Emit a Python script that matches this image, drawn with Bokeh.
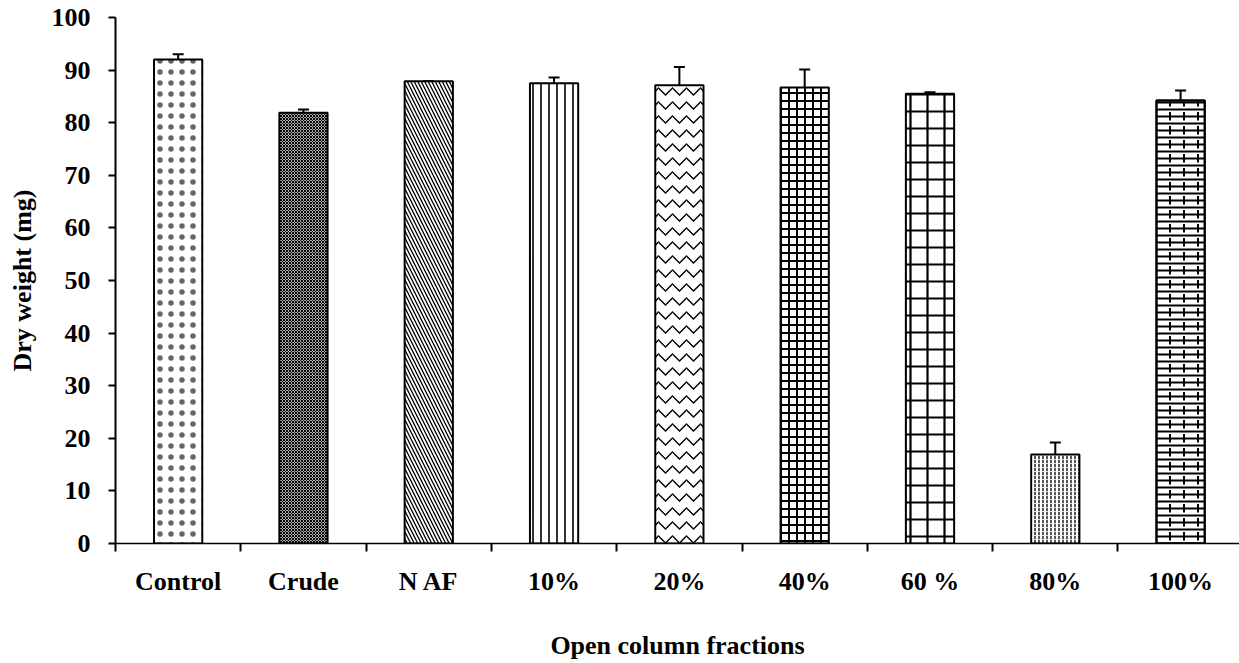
from bokeh.plotting import figure
from bokeh.models import FixedTicker, Whisker, ColumnDataSource, TeeHead, CDSView, IndexFilter
from bokeh.embed import file_html
from bokeh.resources import INLINE

categories = ["Control", "Crude", "N AF", "10%", "20%", "40%", "60 %", "80%", "100%"]
dry_weight = [92.0, 81.9, 87.9, 87.5, 87.1, 86.7, 85.5, 16.9, 84.2]
error = [1.0, 0.6, 0.0, 1.1, 3.5, 3.4, 0.3, 2.3, 1.9]
y_ticks = [0, 10, 20, 30, 40, 50, 60, 70, 80, 90, 100]

patterns = [".", "x", "\\", "|", "v", "+", "+", ":", "-"]
scales = [11, 3, 7, 8, 14, 8, 17, 4, 7]
weights = [1.0, 1.2, 1.3, 1.6, 1.3, 2.0, 2.2, 1.3, 2.0]
alphas = [0.6, 1.0, 1.0, 1.0, 1.0, 1.0, 1.0, 1.0, 1.0]

FONT = "Liberation Serif"

x = [i + 0.5 for i in range(len(categories))]
src = ColumnDataSource(dict(
    x=x, top=dry_weight,
    upper=[v + e for v, e in zip(dry_weight, error)],
    pat=patterns, sc=scales, wt=weights, ha=alphas,
))

p = figure(width=1239, height=663, x_range=(0, 8.97), y_range=(0, 100),
           output_backend="svg", toolbar_location=None,
           min_border_left=115, min_border_right=0, min_border_top=17,
           min_border_bottom=120)
p.outline_line_color = None
p.xgrid.visible = False
p.ygrid.visible = False

p.vbar(x="x", top="top", bottom=0, width=0.385, source=src,
       fill_color="white", line_color="black", line_width=2,
       hatch_pattern="pat", hatch_scale="sc", hatch_weight="wt",
       hatch_alpha="ha", hatch_color="black")

# brick-like overlay on the 100% bar: staggered vertical dashes
p.vbar(x="x", top="top", bottom=0, width=0.385, source=src,
       view=CDSView(filter=IndexFilter([8])),
       fill_alpha=0, line_color="black", line_width=2,
       hatch_pattern=":", hatch_scale=14, hatch_weight=2.0,
       hatch_color="black")

wh = Whisker(base="x", upper="upper", lower="top", source=src,
             line_color="black", line_width=2,
             upper_head=TeeHead(size=11, line_width=2, line_color="black"),
             lower_head=None)
p.add_layout(wh)

# x axis
p.xaxis.ticker = FixedTicker(ticks=x, minor_ticks=list(range(len(categories) + 1)))
p.xaxis.major_label_overrides = {xv: c for xv, c in zip(x, categories)}
p.xaxis.major_tick_out = 0
p.xaxis.major_tick_in = 0
p.xaxis.minor_tick_out = 8
p.xaxis.minor_tick_in = 0
p.xaxis.minor_tick_line_width = 2
p.xaxis.axis_line_width = 1.5
p.xaxis.major_label_standoff = 15
p.xaxis.axis_label = "Open column fractions"
p.xaxis.axis_label_standoff = 32

# y axis
p.yaxis.ticker = FixedTicker(ticks=y_ticks)
p.yaxis.major_tick_out = 7
p.yaxis.major_tick_in = 0
p.yaxis.major_tick_line_width = 2
p.yaxis.minor_tick_line_color = None
p.yaxis.axis_line_width = 2
p.yaxis.major_label_standoff = 18
p.yaxis.axis_label = "Dry weight (mg)"
p.yaxis.axis_label_standoff = 12

for ax in (p.xaxis, p.yaxis):
    ax.axis_line_color = "black"
    ax.major_tick_line_color = "black"
    ax.major_label_text_font = FONT
    ax.major_label_text_font_style = "bold"
    ax.major_label_text_font_size = "26px"
    ax.major_label_text_color = "black"
    ax.axis_label_text_font = FONT
    ax.axis_label_text_font_style = "bold"
    ax.axis_label_text_font_size = "26px"
    ax.axis_label_text_color = "black"

open("out.html", "w").write(file_html(p, INLINE))
